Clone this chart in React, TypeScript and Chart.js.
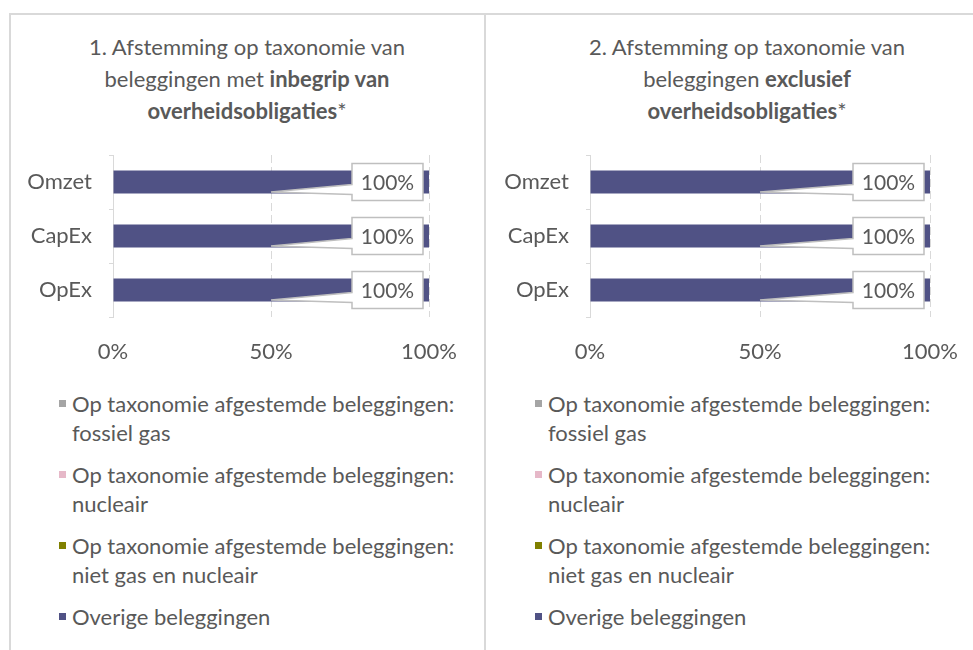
import React, { useEffect, useRef } from "react";
import { Chart, registerables } from "chart.js";
Chart.register(...registerables);

const categories = ["Omzet", "CapEx", "OpEx"];
const seriesNames = [
  "Op taxonomie afgestemde beleggingen: fossiel gas",
  "Op taxonomie afgestemde beleggingen: nucleair",
  "Op taxonomie afgestemde beleggingen: niet gas en nucleair",
  "Overige beleggingen",
];
const seriesColors = ["#a5a5a5", "#e6b8c8", "#808000", "#505285"];

const fossielGas1 = [0, 0, 0];
const nucleair1 = [0, 0, 0];
const nietGasNucleair1 = [0, 0, 0];
const overige1 = [100, 100, 100];

const fossielGas2 = [0, 0, 0];
const nucleair2 = [0, 0, 0];
const nietGasNucleair2 = [0, 0, 0];
const overige2 = [100, 100, 100];

const xTickValues = [0, 50, 100];

const FONT = "Lato, 'Noto Sans', sans-serif";
const FS = 22;
const TEXT = "#595959";
const LINE = "#d9d9d9";

const calloutPlugin = {
  id: "callouts",
  afterDatasetsDraw(chart: any) {
    const ctx = chart.ctx;
    const xScale = chart.scales.x;
    chart.data.datasets.forEach((ds: any, di: number) => {
      const meta = chart.getDatasetMeta(di);
      meta.data.forEach((bar: any, i: number) => {
        const v = ds.data[i];
        if (!v) return;
        const h = bar.height;
        const right = bar.x - 6;
        const left = right - 71;
        const top = bar.y - 18.5;
        const bottom = bar.y + 18.5;
        const tipX = xScale.getPixelForValue(v / 2);
        const tipY = bar.y + h / 2 - 1.5;
        ctx.save();
        ctx.beginPath();
        ctx.moveTo(left, top);
        ctx.lineTo(right, top);
        ctx.lineTo(right, bottom);
        ctx.lineTo(left, bottom);
        ctx.lineTo(left, bottom - 6);
        ctx.lineTo(tipX, tipY);
        ctx.lineTo(left, bottom - 16);
        ctx.closePath();
        ctx.fillStyle = "#ffffff";
        ctx.fill();
        ctx.strokeStyle = "#bfbfbf";
        ctx.lineWidth = 1.5;
        ctx.stroke();
        ctx.fillStyle = TEXT;
        ctx.font = `21px ${FONT}`;
        ctx.textAlign = "center";
        ctx.textBaseline = "middle";
        ctx.fillText(v + "%", (left + right) / 2, bar.y + 1);
        ctx.restore();
      });
    });
  },
};

function BarPanel(props: {
  left: number;
  width: number;
  yWidth: number;
  padRight: number;
  series: number[][];
}) {
  const ref = useRef<HTMLCanvasElement>(null);
  useEffect(() => {
    if (!ref.current) return;
    const chart = new Chart(ref.current, {
      type: "bar",
      data: {
        labels: categories,
        datasets: props.series.map((d, i) => ({
          label: seriesNames[i],
          data: d,
          backgroundColor: seriesColors[i],
          borderWidth: 0,
          categoryPercentage: 1,
          barPercentage: 0.43,
        })),
      },
      options: {
        indexAxis: "y",
        animation: false,
        responsive: false,
        maintainAspectRatio: false,
        layout: { padding: { top: 15, right: props.padRight, bottom: 13, left: 0 } },
        plugins: {
          legend: { display: false },
          tooltip: { enabled: false },
        },
        scales: {
          x: {
            stacked: true,
            min: 0,
            max: 100,
            afterBuildTicks: (s: any) => {
              s.ticks = xTickValues.map((v) => ({ value: v }));
            },
            ticks: {
              callback: (v: any) => v + "%",
              color: TEXT,
              font: { family: FONT, size: FS },
              padding: 22,
              maxRotation: 0,
            },
            grid: { color: LINE, drawTicks: false, lineWidth: 1 },
            border: { display: false, dash: [8, 4] },
            afterFit: (s: any) => {
              s.height = 50;
              s.paddingLeft = 0;
              s.paddingRight = 0;
            },
          },
          y: {
            stacked: true,
            ticks: {
              color: TEXT,
              font: { family: FONT, size: FS },
              padding: 17,
            },
            grid: {
              drawOnChartArea: false,
              color: LINE,
              tickLength: 4,
              offset: true,
            },
            border: { color: LINE, width: 1 },
            afterFit: (s: any) => {
              s.width = props.yWidth;
              s.paddingTop = 0;
              s.paddingBottom = 0;
            },
          },
        },
      } as any,
      plugins: [calloutPlugin],
    });
    return () => chart.destroy();
  }, []);
  return (
    <canvas
      ref={ref}
      width={props.width}
      height={240}
      style={{ position: "absolute", left: props.left, top: 140, width: props.width, height: 240 }}
    />
  );
}

function Legend(props: { left: number }) {
  return (
    <div style={{ position: "absolute", left: props.left, top: 389, lineHeight: "29px", fontSize: FS }}>
      {seriesNames.map((n, i) => {
        const idx = n.indexOf(": ");
        const lines = idx >= 0 ? [n.slice(0, idx + 1), n.slice(idx + 2)] : [n];
        return (
          <div key={i} style={{ display: "flex", marginBottom: 13 }}>
            <div
              style={{
                width: 7,
                height: 7,
                background: seriesColors[i],
                marginTop: 11,
                marginRight: 6,
                flex: "none",
              }}
            />
            <div>
              {lines.map((l, j) => (
                <div key={j} style={{ whiteSpace: "nowrap" }}>
                  {l}
                </div>
              ))}
            </div>
          </div>
        );
      })}
    </div>
  );
}

function Title(props: { left: number; width: number; children: React.ReactNode }) {
  return (
    <div
      style={{
        position: "absolute",
        left: props.left,
        width: props.width,
        top: 31,
        textAlign: "center",
        lineHeight: "32px",
        fontSize: FS,
      }}
    >
      {props.children}
    </div>
  );
}

export default function App() {
  return (
    <div
      style={{
        position: "fixed",
        left: 0,
        top: 0,
        width: 973,
        height: 650,
        overflow: "hidden",
        background: "#fff",
        fontFamily: FONT,
        color: TEXT,
      }}
    >
      <div
        style={{
          position: "absolute",
          left: 9,
          top: 13,
          width: 476,
          height: 700,
          borderTop: `2px solid ${LINE}`,
          borderLeft: `2px solid ${LINE}`,
          boxSizing: "border-box",
        }}
      />
      <div
        style={{
          position: "absolute",
          left: 484,
          top: 13,
          width: 600,
          height: 700,
          borderTop: `2px solid ${LINE}`,
          borderLeft: `2px solid ${LINE}`,
          boxSizing: "border-box",
        }}
      />
      <Title left={9} width={476}>
        1. Afstemming op taxonomie van
        <br />
        beleggingen met <b>inbegrip van</b>
        <br />
        <b>overheidsobligaties</b>*
      </Title>
      <Title left={485} width={524}>
        2. Afstemming op taxonomie van
        <br />
        beleggingen <b>exclusief</b>
        <br />
        <b>overheidsobligaties</b>*
      </Title>
      <BarPanel
        left={9}
        width={476}
        yWidth={104}
        padRight={56}
        series={[fossielGas1, nucleair1, nietGasNucleair1, overige1]}
      />
      <BarPanel
        left={485}
        width={488}
        yWidth={105}
        padRight={43}
        series={[fossielGas2, nucleair2, nietGasNucleair2, overige2]}
      />
      <Legend left={59} />
      <Legend left={535} />
    </div>
  );
}
